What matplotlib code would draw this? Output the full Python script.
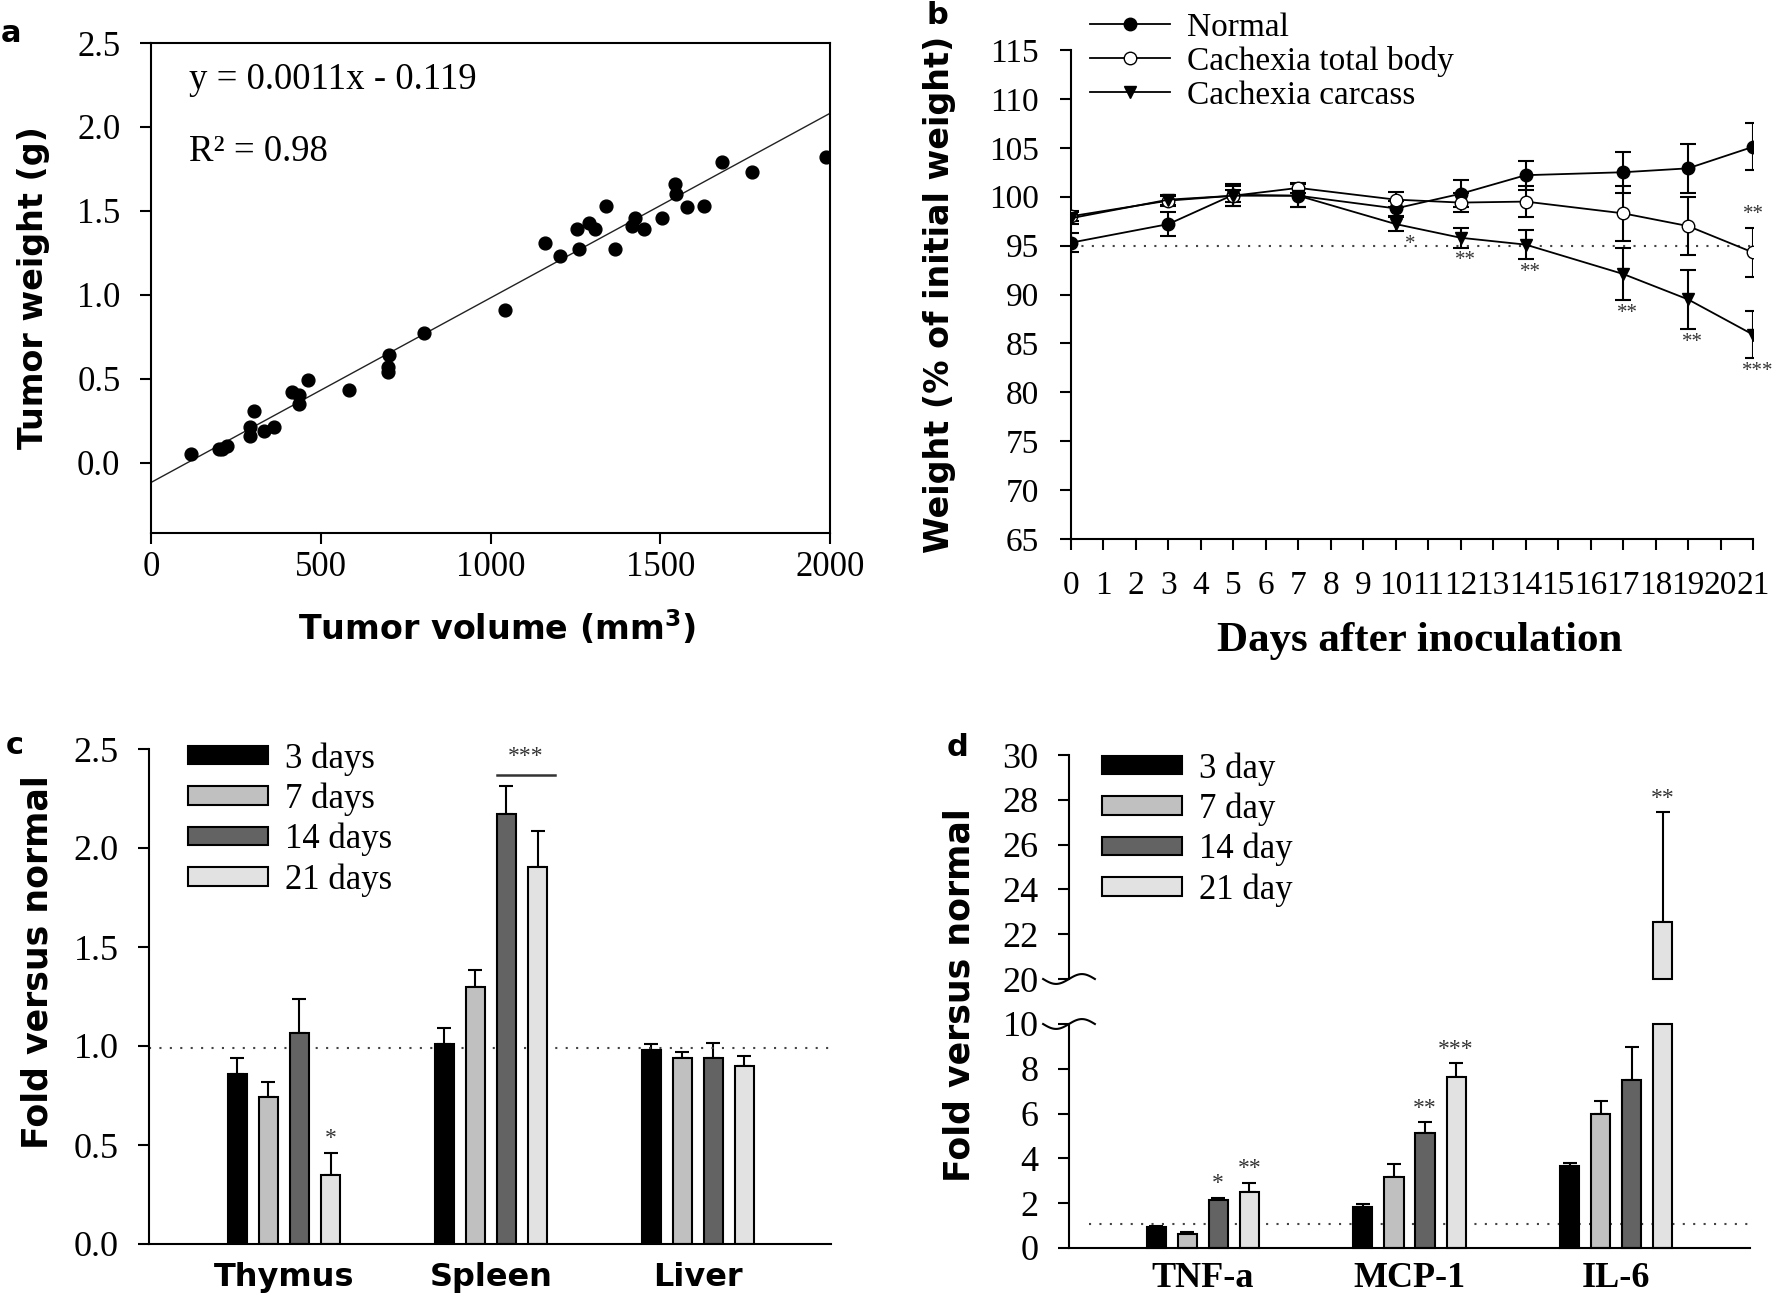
import numpy as np
import matplotlib
matplotlib.use("Agg")
import matplotlib.pyplot as plt

plt.rcParams["font.family"] = ["Liberation Serif", "DejaVu Serif"]
plt.rcParams["mathtext.fontset"] = "dejavusans"

W, H = 1772, 1304
SANS = "DejaVu Sans"

# ---- panel a: tumour volume vs weight
tumor_volume = [118, 201, 210, 224, 293, 293, 304, 333, 362, 414, 437, 437, 463, 583,
                700, 697, 697, 803, 1043, 1162, 1204, 1254, 1261, 1289, 1307, 1339,
                1368, 1418, 1425, 1451, 1504, 1542, 1546, 1579, 1629, 1682, 1770, 1987]
tumor_weight = [0.05, 0.08, 0.08, 0.10, 0.21, 0.16, 0.31, 0.19, 0.21, 0.42, 0.40, 0.35,
                0.49, 0.43, 0.64, 0.57, 0.54, 0.77, 0.91, 1.31, 1.23, 1.39, 1.27, 1.43,
                1.39, 1.53, 1.27, 1.41, 1.46, 1.39, 1.46, 1.66, 1.60, 1.52, 1.53, 1.79,
                1.73, 1.82]
fit_slope, fit_intercept = 0.0011, -0.119

# ---- panel b: body weight over time
days = [0, 3, 5, 7, 10, 12, 14, 17, 19, 21]
normal = [95.3, 97.2, 100.2, 100.1, 98.8, 100.3, 102.2, 102.5, 102.9, 105.1]
normal_err = [1.0, 1.2, 1.1, 1.2, 0.8, 1.4, 1.5, 2.1, 2.5, 2.4]
total_body = [98.0, 99.6, 100.1, 100.9, 99.7, 99.4, 99.5, 98.3, 97.0, 94.3]
total_body_err = [0.5, 0.5, 0.6, 0.5, 0.8, 1.0, 1.6, 2.8, 3.0, 2.5]
carcass = [97.8, 99.7, 100.1, 100.1, 97.2, 95.8, 95.1, 92.1, 89.5, 85.9]
carcass_err = [0.6, 0.5, 1.0, 1.2, 0.7, 1.0, 1.5, 2.7, 3.0, 2.4]
carcass_stars = ["", "", "", "", "*", "**", "**", "**", "**", "***"]
total_body_stars = ["", "", "", "", "", "", "", "", "", "**"]

# ---- panel c: organ weight
organs = ["Thymus", "Spleen", "Liver"]
organ_days = ["3 days", "7 days", "14 days", "21 days"]
organ_fold = [[0.86, 1.01, 0.98],
              [0.74, 1.30, 0.94],
              [1.065, 2.17, 0.94],
              [0.35, 1.905, 0.90]]
organ_err = [[0.08, 0.08, 0.03],
             [0.08, 0.085, 0.03],
             [0.17, 0.145, 0.075],
             [0.11, 0.18, 0.05]]
organ_stars = [["", "", ""], ["", "", ""], ["", "", ""], ["*", "", ""]]
spleen_bracket = 2.37

# ---- panel d: cytokines
cytokines = ["TNF-a", "MCP-1", "IL-6"]
cyto_days = ["3 day", "7 day", "14 day", "21 day"]
cyto_fold = [[0.92, 1.82, 3.65],
             [0.62, 3.19, 5.97],
             [2.15, 5.13, 7.50],
             [2.52, 7.65, 22.55]]
cyto_err = [[0.08, 0.16, 0.15],
            [0.10, 0.54, 0.58],
            [0.09, 0.50, 1.49],
            [0.39, 0.59, 4.90]]
cyto_stars = [["", "", ""], ["", "", ""], ["*", "**", ""], ["**", "***", "**"]]

bar_colors = ["#000000", "#c0c0c0", "#636363", "#e2e2e2"]
offsets = [-0.225, -0.075, 0.075, 0.225]
bar_w = 0.092


def rect(l, t, r, b):
    return [l / W, 1 - b / H, (r - l) / W, (b - t) / H]


def style(ax, fs):
    ax.tick_params(direction="out", length=8, width=1.5, labelsize=fs, pad=11)
    for s in ax.spines.values():
        s.set_linewidth(1.5)


fig = plt.figure(figsize=(W / 100, H / 100), dpi=100)

# ================= a
ax = fig.add_axes(rect(151, 43, 830, 533))
style(ax, 25)
ax.tick_params(axis="x", pad=5)
ax.tick_params(axis="y", pad=14)
ax.scatter(tumor_volume, tumor_weight, s=85, c="black", zorder=3)
xs = np.array([0, 2000])
ax.plot(xs, fit_slope * xs + fit_intercept, color="#222222", lw=1.0)
ax.set_xlim(0, 2000)
ax.set_ylim(-0.42, 2.5)
ax.set_xticks([0, 500, 1000, 1500, 2000])
ax.set_yticks(np.arange(0, 2.51, 0.5))
ax.yaxis.set_major_formatter(matplotlib.ticker.FormatStrFormatter("%.1f"))
ax.text(112, 2.28, "y = 0.0011x - 0.119", fontsize=26.5, va="center")
ax.text(112, 1.85, "R² = 0.98", fontsize=26.5, va="center")
fig.text(34 / W, 1 - 288 / H, "Tumor weight (g)", rotation=90, ha="center", va="center",
         fontsize=24, fontweight="bold", family=SANS)
fig.text(497 / W, 1 - 628 / H, r"Tumor volume (mm$^{\mathbf{3}}$)", ha="center", va="center",
         fontsize=24, fontweight="bold", family=SANS)

# ================= b
ax = fig.add_axes(rect(1071, 50, 1753, 539))
style(ax, 24)
ax.tick_params(axis="y", pad=15)
ax.tick_params(axis="x", pad=15)
for sp in ["top", "right"]:
    ax.spines[sp].set_visible(False)
ax.axhline(95, color="#444444", lw=1.5, ls=(0, (1, 4)), zorder=1)
series = [("Normal", normal, normal_err, "o", "black"),
          ("Cachexia total body", total_body, total_body_err, "o", "white"),
          ("Cachexia carcass", carcass, carcass_err, "v", "black")]
handles = []
for name, vals, errs, mk, fc in series:
    ax.errorbar(days, vals, yerr=errs, fmt="none", ecolor="black", elinewidth=1.5,
                capsize=6, capthick=1.5, zorder=2)
    h, = ax.plot(days, vals, "-", marker=mk, color="black", mfc=fc, mec="black",
                 ms=9, lw=1.3, label=name, zorder=3)
    handles.append(h)
for d, v, e, s in zip(days, carcass, carcass_err, carcass_stars):
    if s:
        dx = 0.45 if d == 10 else 0.15
        ax.text(d + dx, v - e - 0.4, s, ha="center", va="top", fontsize=15, color="#333333")
for d, v, e, s in zip(days, total_body, total_body_err, total_body_stars):
    if s:
        ax.text(d, v + e + 0.4, s, ha="center", va="bottom", fontsize=15, color="#333333")
ax.set_xlim(0, 21)
ax.set_ylim(65, 115)
ax.set_xticks(range(0, 22))
ax.set_yticks(range(65, 116, 5))
fig.legend(handles=handles, loc="upper left", bbox_to_anchor=(1090 / W, 1 - 12 / H),
           frameon=False, fontsize=24, handlelength=2.4, handletextpad=0.5,
           labelspacing=0.1, borderpad=0, borderaxespad=0, numpoints=1)
fig.text(939 / W, 1 - 294 / H, "Weight (% of initial weight)", rotation=90, ha="center",
         va="center", fontsize=24, fontweight="bold", family=SANS)
fig.text(1420 / W, 1 - 641 / H, "Days after inoculation", ha="center", va="center",
         fontsize=31, fontweight="bold")

# ================= c
ax = fig.add_axes(rect(149, 749, 831, 1244))
style(ax, 26)
ax.tick_params(axis="y", pad=14)
for sp in ["top", "right"]:
    ax.spines[sp].set_visible(False)
xg = np.arange(len(organs))
for i in range(len(organ_days)):
    xb = xg + offsets[i]
    ax.bar(xb, organ_fold[i], width=bar_w, color=bar_colors[i], edgecolor="black", lw=1.5,
           zorder=2, label=organ_days[i])
    ax.errorbar(xb, organ_fold[i], yerr=[np.zeros(len(xb)), organ_err[i]], fmt="none",
                ecolor="black", elinewidth=1.5, capsize=5, capthick=1.5, zorder=1)
    for x, v, e, s in zip(xb, organ_fold[i], organ_err[i], organ_stars[i]):
        if s:
            ax.text(x, v + e + 0.02, s, ha="center", va="bottom", fontsize=17, color="#333333")
ax.axhline(0.99, color="#444444", lw=1.5, ls=(0, (1, 4)), zorder=1)
# spleen 14 vs 21 day bracket
x_a = 1 + offsets[2] - bar_w / 2
x_b = 1 + offsets[3] + bar_w / 2 + 0.04
ax.plot([x_a, x_b], [spleen_bracket, spleen_bracket], color="#333333", lw=1.8, clip_on=False)
ax.text((x_a + x_b) / 2, spleen_bracket + 0.04, "***", ha="center", va="bottom", fontsize=17,
        color="#333333")
ax.set_xlim(-0.652, 2.643)
ax.set_ylim(0, 2.5)
ax.set_yticks(np.arange(0, 2.51, 0.5))
ax.yaxis.set_major_formatter(matplotlib.ticker.FormatStrFormatter("%.1f"))
ax.set_xticks(xg)
ax.set_xticklabels(organs, fontsize=23, fontweight="bold", family=SANS)
ax.tick_params(axis="x", length=0, pad=13)
ax.legend(loc="upper left", bbox_to_anchor=(188 / W, 1 - 742 / H),
          bbox_transform=fig.transFigure, frameon=False, fontsize=25, handlelength=2.3,
          handleheight=0.45, handletextpad=0.5, labelspacing=0.2, borderpad=0,
          borderaxespad=0)
fig.text(38 / W, 1 - 962 / H, "Fold versus normal", rotation=90, ha="center", va="center",
         fontsize=25, fontweight="bold", family=SANS)

# ================= d (broken axis)
low = fig.add_axes(rect(1069, 1024, 1750, 1248))
up = fig.add_axes(rect(1069, 755, 1750, 979))
for a in (low, up):
    style(a, 26)
    a.tick_params(axis="y", pad=14)
    for sp in ["top", "right"]:
        a.spines[sp].set_visible(False)
    a.set_xlim(-0.647, 2.647)
up.spines["bottom"].set_visible(False)
up.set_xticks([])
low_top, up_bottom = 10, 20
xg = np.arange(len(cytokines))
for i in range(len(cyto_days)):
    xb = xg + offsets[i]
    v = np.array(cyto_fold[i])
    e = np.array(cyto_err[i])
    low.bar(xb, np.minimum(v, low_top), width=bar_w, color=bar_colors[i], edgecolor="black",
            lw=1.5, zorder=2, clip_on=False, label=cyto_days[i])
    big = v > up_bottom
    if big.any():
        up.bar(xb[big], v[big] - up_bottom, bottom=up_bottom, width=bar_w,
               color=bar_colors[i], edgecolor="black", lw=1.5, zorder=2, clip_on=False)
        up.errorbar(xb[big], v[big], yerr=[np.zeros(big.sum()), e[big]], fmt="none",
                    ecolor="black", elinewidth=1.5, capsize=5, capthick=1.5, zorder=1)
    sm = ~big
    low.errorbar(xb[sm], v[sm], yerr=[np.zeros(sm.sum()), e[sm]], fmt="none",
                 ecolor="black", elinewidth=1.5, capsize=5, capthick=1.5, zorder=1)
    for x, vv, ee, s in zip(xb, v, e, cyto_stars[i]):
        if s:
            tgt = up if vv > up_bottom else low
            tgt.text(x, vv + ee + 0.15, s, ha="center", va="bottom", fontsize=17,
                     color="#333333")
low.axhline(1.05, xmin=0.03, color="#444444", lw=1.5, ls=(0, (1, 4)), zorder=1)
low.set_ylim(0, low_top)
up.set_ylim(up_bottom, 30)
low.set_yticks(range(0, 11, 2))
up.set_yticks(range(20, 31, 2))
low.set_xticks(xg)
low.set_xticklabels(cytokines, fontsize=26, fontweight="bold")
low.tick_params(axis="x", length=0, pad=10)
# break marks on the y axis
t = np.linspace(-1, 1, 40)
wx = 0.038 * t
up.plot(wx, 0.022 * np.sin(np.pi * t), transform=up.transAxes, color="black", lw=1.5,
        clip_on=False)
low.plot(wx, 1 + 0.022 * np.sin(np.pi * t), transform=low.transAxes, color="black", lw=1.5,
         clip_on=False)
h, l = low.get_legend_handles_labels()
up.legend(h, l, loc="upper left", bbox_to_anchor=(1102 / W, 1 - 752 / H),
          bbox_transform=fig.transFigure, frameon=False, fontsize=25, handlelength=2.3,
          handleheight=0.45, handletextpad=0.5, labelspacing=0.2, borderpad=0,
          borderaxespad=0)
fig.text(959 / W, 1 - 995 / H, "Fold versus normal", rotation=90, ha="center", va="center",
         fontsize=25, fontweight="bold", family=SANS)

# panel letters
for lbl, (px, py) in zip("abcd", [(11, 34), (937, 15), (15, 745), (958, 748)]):
    fig.text(px / W, 1 - py / H, lbl, ha="center", va="center", fontsize=22,
             fontweight="bold", family=SANS)

fig.savefig("out.png", dpi=100)
